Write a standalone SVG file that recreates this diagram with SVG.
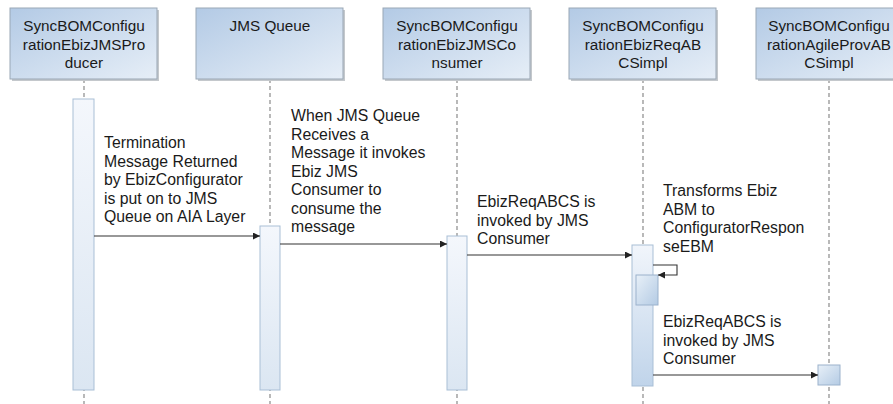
<svg xmlns="http://www.w3.org/2000/svg" width="893" height="404" viewBox="0 0 893 404">
<defs>
<linearGradient id="hdr" x1="0" y1="0" x2="1" y2="1">
<stop offset="0" stop-color="#b3cae5"/>
<stop offset="1" stop-color="#e6eef7"/>
</linearGradient>
<linearGradient id="act" x1="0" y1="0" x2="0" y2="1">
<stop offset="0" stop-color="#f4f7fc"/>
<stop offset="1" stop-color="#dbe6f2"/>
</linearGradient>
<linearGradient id="act2" x1="0" y1="0" x2="0" y2="1">
<stop offset="0" stop-color="#f1f5fb"/>
<stop offset="1" stop-color="#c0d4ea"/>
</linearGradient>
<linearGradient id="act3" x1="0" y1="0" x2="1" y2="1">
<stop offset="0" stop-color="#e8f0f8"/>
<stop offset="1" stop-color="#b4cbe4"/>
</linearGradient>
<marker id="arr" viewBox="0 0 10 10" refX="10" refY="5" markerWidth="9" markerHeight="7" markerUnits="userSpaceOnUse" orient="auto">
<path d="M0,0 L10,5 L0,10 z" fill="#222"/>
</marker>
</defs>
<style>
.box{fill:url(#hdr);stroke:#9aa7b5;stroke-width:1}
.sh{fill:#c4c8cc}
.life{stroke:#8a8a8a;stroke-width:1.2;stroke-dasharray:4 3;fill:none}
.bar{fill:url(#act);stroke:#a9bfd6;stroke-width:1}
.bar2{fill:url(#act2);stroke:#a9bfd6;stroke-width:1}
.bar3{fill:url(#act3);stroke:#9bb2cc;stroke-width:1}
.msg{stroke:#333;stroke-width:1.1;fill:none;marker-end:url(#arr)}
text{font-family:"Liberation Sans",Arial,sans-serif;font-size:15.3px;fill:#1a1a1a}
.lbl{font-size:15.8px}
.c{text-anchor:middle}
</style>
<rect width="893" height="404" fill="#fff"/>
<g id="lifelines">
<line class="life" x1="84" y1="79" x2="84" y2="404"/>
<line class="life" x1="270" y1="79" x2="270" y2="404"/>
<line class="life" x1="457" y1="79" x2="457" y2="404"/>
<line class="life" x1="643" y1="79" x2="643" y2="404"/>
<line class="life" x1="829" y1="79" x2="829" y2="404"/>
</g>
<g id="n1">
<rect class="sh" x="12" y="10" width="147" height="71"/>
<rect class="box" x="10" y="8" width="147" height="71"/>
<text class="c" x="84" y="31">SyncBOMConfigu</text>
<text class="c" x="84" y="49.5">rationEbizJMSPro</text>
<text class="c" x="84" y="68">ducer</text>
</g>
<g id="n2">
<rect class="sh" x="198" y="10" width="147" height="71"/>
<rect class="box" x="196" y="8" width="147" height="71"/>
<text class="c" x="270" y="31">JMS Queue</text>
</g>
<g id="n3">
<rect class="sh" x="385" y="10" width="147" height="71"/>
<rect class="box" x="383" y="8" width="147" height="71"/>
<text class="c" x="457" y="31">SyncBOMConfigu</text>
<text class="c" x="457" y="49.5">rationEbizJMSCo</text>
<text class="c" x="457" y="68">nsumer</text>
</g>
<g id="n4">
<rect class="sh" x="571" y="10" width="147" height="71"/>
<rect class="box" x="569" y="8" width="147" height="71"/>
<text class="c" x="643" y="31">SyncBOMConfigu</text>
<text class="c" x="643" y="49.5">rationEbizReqAB</text>
<text class="c" x="643" y="68">CSimpl</text>
</g>
<g id="n5">
<rect class="sh" x="758" y="10" width="147" height="71"/>
<rect class="box" x="756" y="8" width="147" height="71"/>
<text class="c" x="829" y="31">SyncBOMConfigu</text>
<text class="c" x="829" y="49.5">rationAgileProvAB</text>
<text class="c" x="829" y="68">CSimpl</text>
</g>
<g id="activations">
<rect class="bar" x="73" y="99" width="21" height="291"/>
<rect class="bar" x="260" y="226" width="20" height="164"/>
<rect class="bar" x="447" y="236" width="20" height="154"/>
<rect class="bar2" x="632" y="245" width="21" height="141"/>
<rect class="bar3" x="636" y="275" width="22" height="30"/>
<rect class="bar3" x="818" y="365" width="22" height="20"/>
</g>
<g id="connectors">
<line class="msg" x1="94" y1="236" x2="260" y2="236"/>
<line class="msg" x1="280" y1="244" x2="447" y2="244"/>
<line class="msg" x1="467" y1="255" x2="632" y2="255"/>
<polyline class="msg" points="653,265 677,265 677,275 658,275"/>
<line class="msg" x1="653" y1="375" x2="818" y2="375"/>
</g>
<g id="labels" class="lbl">
<text class="lbl" x="104" y="148">Termination</text>
<text class="lbl" x="104" y="166.5">Message Returned</text>
<text class="lbl" x="104" y="185">by EbizConfigurator</text>
<text class="lbl" x="104" y="203.5">is put on to JMS</text>
<text class="lbl" x="104" y="222">Queue on AIA Layer</text>
<text class="lbl" x="291" y="121">When JMS Queue</text>
<text class="lbl" x="291" y="139.5">Receives a</text>
<text class="lbl" x="291" y="158">Message it invokes</text>
<text class="lbl" x="291" y="176.5">Ebiz JMS</text>
<text class="lbl" x="291" y="195">Consumer to</text>
<text class="lbl" x="291" y="213.5">consume the</text>
<text class="lbl" x="291" y="232">message</text>
<text class="lbl" x="477" y="207">EbizReqABCS is</text>
<text class="lbl" x="477" y="225.5">invoked by JMS</text>
<text class="lbl" x="477" y="244">Consumer</text>
<text class="lbl" x="663" y="196">Transforms Ebiz</text>
<text class="lbl" x="663" y="214.5">ABM to</text>
<text class="lbl" x="663" y="233">ConfiguratorRespon</text>
<text class="lbl" x="663" y="251.5">seEBM</text>
<text class="lbl" x="663" y="327">EbizReqABCS is</text>
<text class="lbl" x="663" y="345.5">invoked by JMS</text>
<text class="lbl" x="663" y="364">Consumer</text>
</g>
</svg>
